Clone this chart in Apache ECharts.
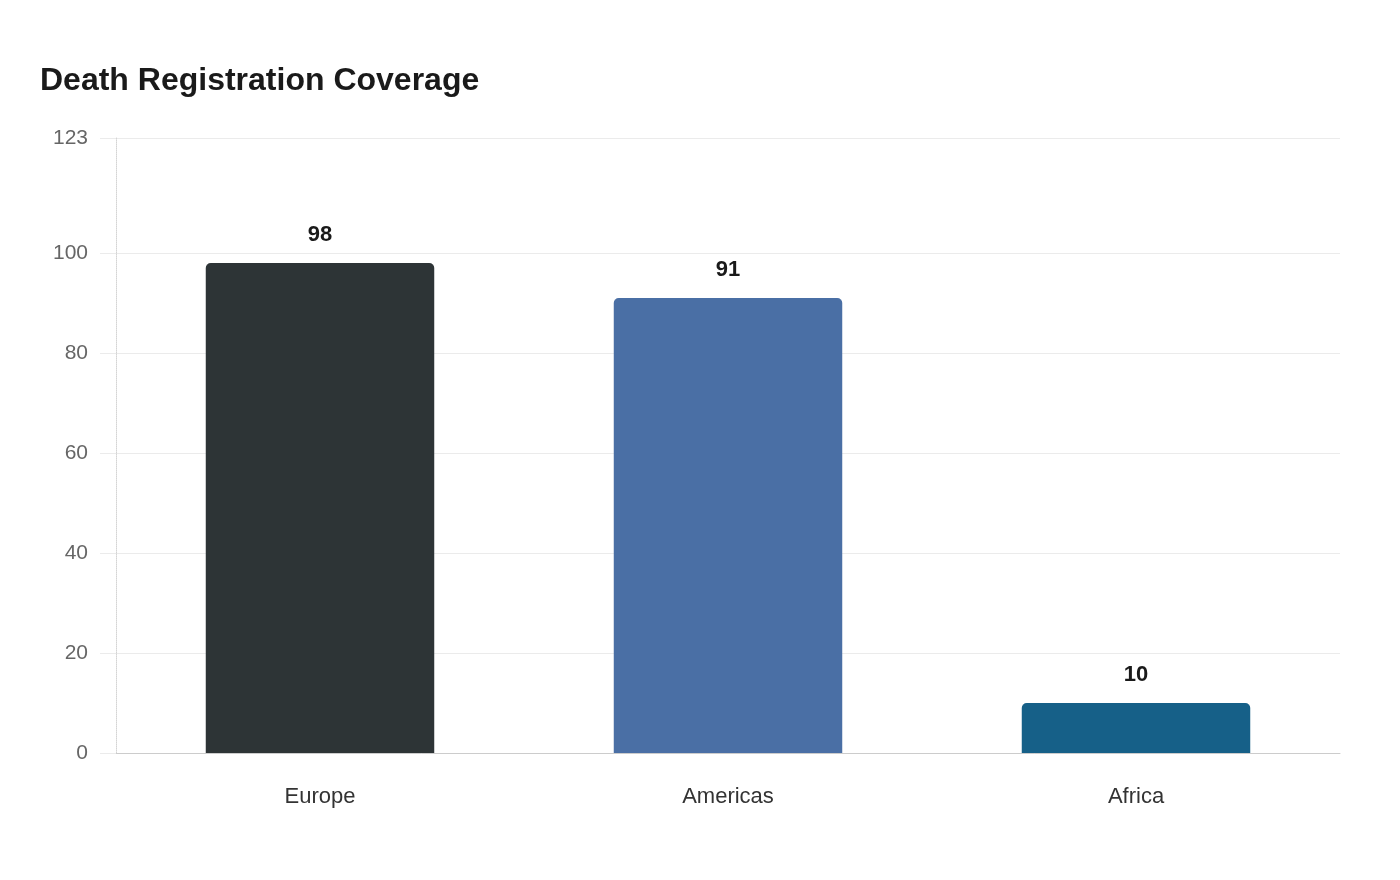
<!DOCTYPE html>
<html>
<head>
<meta charset="utf-8">
<script src="https://cdn.jsdelivr.net/npm/echarts@6/dist/echarts.min.js"></script>
<style>
html,body{margin:0;padding:0;background:#fff;}
#chart{width:1400px;height:880px;}
</style>
</head>
<body>
<div id="chart"></div>
<script>
const titleText = 'Death Registration Coverage';
const categories = ['Europe', 'Americas', 'Africa'];
const values = [98, 91, 10];
const barColors = ['#2d3436', '#4a6fa5', '#166088'];
const yTicks = [0, 20, 40, 60, 80, 100, 123];

const FONT = '"Liberation Sans", Arial, sans-serif';
const chart = echarts.init(document.getElementById('chart'), null, {renderer: 'canvas'});
chart.setOption({
  backgroundColor: '#ffffff',
  animation: false,
  title: {
    text: titleText,
    left: 35,
    top: 60,
    textStyle: {fontFamily: FONT, fontSize: 32, fontWeight: 'bold', color: '#1a1a1a'}
  },
  grid: {left: 116, right: 60, top: 138, bottom: 127, containLabel: false},
  xAxis: {
    type: 'category',
    data: categories,
    axisLine: {show: true, lineStyle: {color: '#cccccc', width: 1}},
    axisTick: {show: false},
    axisLabel: {margin: 33, fontSize: 22, color: '#333333', fontFamily: FONT}
  },
  yAxis: {
    type: 'value',
    min: 0,
    max: 123,
    axisLine: {show: true, lineStyle: {color: '#d4d4d4', width: 1, type: 'dotted'}},
    axisTick: {show: true, length: 16, customValues: yTicks, lineStyle: {color: '#ebebeb'}},
    axisLabel: {customValues: yTicks, margin: 28, fontSize: 21, color: '#666666', fontFamily: FONT},
    splitLine: {show: true, lineStyle: {color: '#ebebeb', width: 1}}
  },
  series: [{
    type: 'bar',
    barWidth: '56%',
    data: values.map((v, i) => ({value: v, itemStyle: {color: barColors[i]}})),
    itemStyle: {borderRadius: [5, 5, 0, 0]},
    label: {
      show: true,
      position: 'top',
      distance: 17,
      fontSize: 22,
      fontWeight: 'bold',
      color: '#1a1a1a',
      fontFamily: FONT
    }
  }]
});
</script>
</body>
</html>
